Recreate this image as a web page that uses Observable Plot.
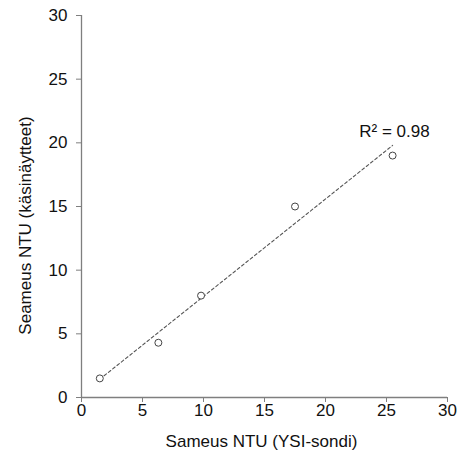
<!DOCTYPE html>
<html>
<head>
<meta charset="utf-8">
<script src="https://cdn.jsdelivr.net/npm/d3@7"></script>
<script src="https://cdn.jsdelivr.net/npm/@observablehq/plot@0.6"></script>
<style>
  html, body { margin: 0; padding: 0; background: #fff; }
  #chart svg { display: block; }
</style>
</head>
<body>
<div id="chart"></div>
<script>
// Data
const ysiSondi = [1.5, 6.3, 9.8, 17.5, 25.5];      // Sameus NTU (YSI-sondi)
const kasinaytteet = [1.5, 4.3, 8.0, 15.0, 19.0];   // Seameus NTU (käsinäytteet)
const xTicks = [0, 5, 10, 15, 20, 25, 30];
const yTicks = [0, 5, 10, 15, 20, 25, 30];
const xLabel = "Sameus NTU (YSI-sondi)";
const yLabel = "Seameus NTU (käsinäytteet)";
const r2Label = [{x: 25.65, y: 20.9, text: "R² = 0.98"}];

const points = ysiSondi.map((x, i) => ({x, y: kasinaytteet[i]}));

const font = "'Liberation Sans', Arial, sans-serif";
const axisGray = "#7f7f7f";

const chart = Plot.plot({
  width: 469,
  height: 452,
  marginLeft: 81,
  marginRight: 22,
  marginTop: 15,
  marginBottom: 55,
  style: {fontFamily: font, fontSize: "17px", color: "#111", background: "#fff"},
  x: {domain: [0, 30]},
  y: {domain: [0, 30]},
  marks: [
    Plot.axisX({ticks: xTicks, tickSize: 5, tickPadding: 1, label: null, stroke: axisGray, fill: "#111", fontSize: 17}),
    Plot.axisY({ticks: yTicks, tickSize: 5, tickPadding: 9, label: null, stroke: axisGray, fill: "#111", fontSize: 17}),
    Plot.ruleY([0], {stroke: axisGray, strokeWidth: 1.3}),
    Plot.ruleX([0], {stroke: axisGray, strokeWidth: 1.3}),
    Plot.linearRegressionY(points, {x: "x", y: "y", ci: 0, stroke: "#555", strokeWidth: 1.1, strokeDasharray: "3,2.5"}),
    Plot.dot(points, {x: "x", y: "y", r: 3.5, stroke: "#444", strokeWidth: 1, fill: "white"}),
    Plot.text(r2Label, {x: "x", y: "y", text: "text", fontSize: 17, fill: "#111"}),
    Plot.text([xLabel], {frameAnchor: "bottom", textAnchor: "middle", dy: 44, dx: -3, lineAnchor: "middle", fontSize: 17, fill: "#111"}),
    Plot.text([yLabel], {frameAnchor: "left", textAnchor: "middle", rotate: -90, dx: -55.5, dy: 19, lineAnchor: "middle", fontSize: 17, fill: "#111"})
  ]
});

document.getElementById("chart").appendChild(chart);
</script>
</body>
</html>
